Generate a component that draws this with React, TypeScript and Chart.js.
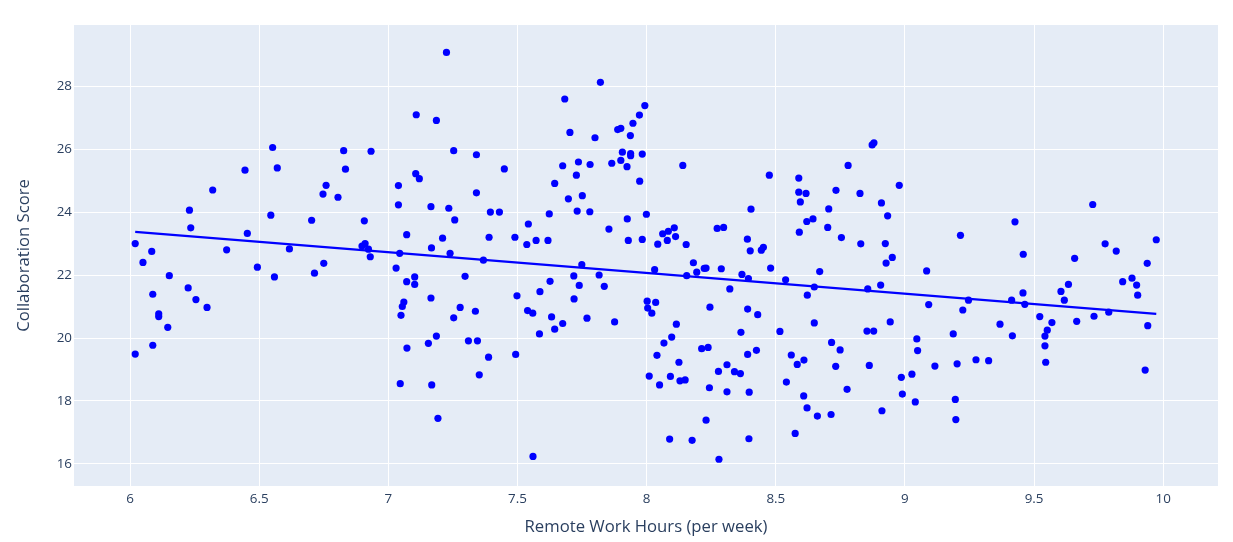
import { useEffect, useRef } from 'react';
import Chart from 'chart.js/auto';

// remote work hours per week (x) and collaboration score (y), one entry per person
const remoteHours = [
  6.02, 6.084, 6.05, 6.152, 6.088, 6.111, 6.111, 6.146, 6.088, 6.02,
  6.225, 6.255, 6.298, 6.23, 6.235, 6.32, 6.374, 6.445, 6.454, 6.493,
  6.552, 6.57, 6.545, 6.559, 6.617, 6.703, 6.714, 6.75, 6.747, 6.759,
  6.805, 6.827, 6.834, 6.907, 6.898, 6.91, 6.923, 6.93, 6.933,
  7.225, 7.108, 7.186, 7.253, 7.341, 7.449, 7.106, 7.12, 7.039, 7.341,
  7.039, 7.165, 7.234, 7.395, 7.43, 7.257, 7.071, 7.21, 7.39, 7.49,
  7.044, 7.167, 7.239, 7.368, 7.03, 7.071, 7.102, 7.102, 7.297, 7.498,
  7.165, 7.06, 7.054, 7.049, 7.278, 7.337, 7.253, 7.186, 7.155, 7.31,
  7.345, 7.072, 7.388, 7.493, 7.352, 7.046, 7.168, 7.192,
  7.821, 7.683, 7.993, 7.972, 7.947, 7.703, 7.8, 7.888, 7.9, 7.937,
  7.906, 7.938, 7.938, 7.983, 7.9, 7.865, 7.924, 7.736, 7.781, 7.675,
  7.728, 7.973, 7.644, 7.697, 7.751, 7.731, 7.78, 7.623, 7.999, 7.925,
  7.542, 7.536, 7.572, 7.618, 7.854, 7.929, 7.983, 7.749, 7.626, 7.718,
  7.816, 7.739, 7.836, 7.587, 7.719, 8.002, 8.004, 8.02, 7.539, 7.559,
  7.632, 7.769, 7.675, 7.644, 7.876, 7.585, 8.01, 7.56,
  8.14, 8.475, 8.404, 8.062, 8.084, 8.107, 8.08, 8.112, 8.043, 8.153,
  8.273, 8.298, 8.39, 8.401, 8.444, 8.452, 8.181, 8.031, 8.194, 8.223,
  8.23, 8.155, 8.289, 8.369, 8.394, 8.48, 8.538, 8.322, 8.035, 8.245,
  8.391, 8.43, 8.115, 8.365, 8.516, 8.097, 8.067, 8.04, 8.213, 8.238,
  8.391, 8.425, 8.56, 8.125, 8.311, 8.278, 8.34, 8.363, 8.092, 8.05,
  8.129, 8.149, 8.243, 8.311, 8.397, 8.541, 8.23, 8.089, 8.176, 8.396,
  8.28, 8.575,
  8.873, 8.88, 8.78, 8.589, 8.589, 8.617, 8.595, 8.733, 8.826, 8.978,
  8.909, 8.933, 8.705, 8.62, 8.644, 8.591, 8.701, 8.754, 8.829, 8.924,
  8.951, 8.927, 8.67, 8.649, 8.622, 8.856, 8.906, 9.084, 9.092, 8.649,
  8.853, 8.879, 8.943, 8.716, 8.749, 8.583, 8.609, 8.732, 8.862, 9.046,
  9.049, 9.116, 8.986, 9.027, 8.776, 8.608, 8.99, 9.04, 8.621, 8.661,
  8.714, 8.911,
  9.727, 9.426, 9.215, 9.458, 9.775, 9.818, 9.973, 9.657, 9.938, 9.843,
  9.879, 9.897, 9.901, 9.633, 9.604, 9.617, 9.457, 9.413, 9.464, 9.246,
  9.224, 9.522, 9.569, 9.551, 9.542, 9.542, 9.545, 9.665, 9.732, 9.789,
  9.94, 9.93, 9.368, 9.187, 9.416, 9.202, 9.275, 9.324, 9.195, 9.197,
];

const collabScores = [
  23.0, 22.75, 22.4, 21.98, 21.39, 20.77, 20.68, 20.34, 19.77, 19.49,
  21.59, 21.22, 20.97, 24.06, 23.5, 24.7, 22.8, 25.33, 23.32, 22.25,
  26.05, 25.4, 23.9, 21.94, 22.83, 23.74, 22.06, 22.37, 24.57, 24.85,
  24.47, 25.95, 25.36, 23.72, 22.92, 23.0, 22.82, 22.58, 25.93,
  29.07, 27.09, 26.91, 25.95, 25.82, 25.37, 25.22, 25.06, 24.84, 24.61,
  24.23, 24.17, 24.12, 24.0, 24.0, 23.75, 23.28, 23.17, 23.2, 23.2,
  22.69, 22.86, 22.69, 22.47, 22.22, 21.79, 21.94, 21.7, 21.96, 21.34,
  21.27, 21.14, 21.0, 20.72, 20.97, 20.85, 20.64, 20.06, 19.83, 19.91,
  19.91, 19.68, 19.39, 19.48, 18.83, 18.55, 18.51, 17.45,
  28.12, 27.59, 27.38, 27.08, 26.82, 26.53, 26.36, 26.62, 26.66, 26.43,
  25.9, 25.86, 25.79, 25.84, 25.64, 25.55, 25.44, 25.59, 25.51, 25.47,
  25.17, 24.98, 24.91, 24.42, 24.52, 24.03, 24.01, 23.94, 23.93, 23.78,
  23.62, 22.97, 23.1, 23.1, 23.46, 23.1, 23.13, 22.33, 21.8, 21.97,
  22.0, 21.67, 21.64, 21.47, 21.24, 21.17, 20.95, 20.79, 20.87, 20.79,
  20.67, 20.63, 20.46, 20.28, 20.51, 20.13, 18.79, 16.24,
  25.48, 25.17, 24.09, 23.31, 23.39, 23.5, 23.1, 23.22, 22.98, 22.97,
  23.48, 23.51, 23.14, 22.77, 22.79, 22.88, 22.39, 22.17, 22.09, 22.21,
  22.22, 21.98, 22.2, 22.02, 21.89, 22.22, 21.85, 21.56, 21.13, 20.98,
  20.92, 20.74, 20.44, 20.18, 20.21, 20.03, 19.84, 19.45, 19.66, 19.7,
  19.48, 19.61, 19.46, 19.23, 19.15, 18.94, 18.93, 18.87, 18.78, 18.51,
  18.64, 18.67, 18.42, 18.29, 18.28, 18.6, 17.39, 16.79, 16.75, 16.8,
  16.15, 16.97,
  26.13, 26.2, 25.48, 25.08, 24.63, 24.59, 24.32, 24.69, 24.59, 24.85,
  24.29, 23.88, 24.1, 23.7, 23.78, 23.36, 23.51, 23.19, 22.99, 23.0,
  22.56, 22.38, 22.11, 21.62, 21.36, 21.56, 21.68, 22.13, 21.06, 20.48,
  20.22, 20.22, 20.51, 19.86, 19.62, 19.16, 19.3, 19.1, 19.13, 19.97,
  19.6, 19.11, 18.75, 18.85, 18.37, 18.16, 18.22, 17.97, 17.78, 17.52,
  17.57, 17.69,
  24.24, 23.69, 23.26, 22.66, 22.99, 22.76, 23.12, 22.53, 22.37, 21.79,
  21.9, 21.68, 21.36, 21.7, 21.48, 21.2, 21.43, 21.2, 21.07, 21.2,
  20.89, 20.68, 20.49, 20.25, 20.06, 19.75, 19.23, 20.53, 20.69, 20.82,
  20.39, 18.98, 20.44, 20.13, 20.07, 19.18, 19.31, 19.28, 18.05, 17.41,
];

const xTicks = [6, 6.5, 7, 7.5, 8, 8.5, 9, 9.5, 10];
const yTicks = [16, 18, 20, 22, 24, 26, 28];

const textColor = '#2a3f5f';
const plotBg = '#E5ECF6';

// ordinary least squares fit, drawn between the smallest and largest x
function olsTrend(xs: number[], ys: number[]) {
  const n = xs.length;
  const mx = xs.reduce((a, b) => a + b, 0) / n;
  const my = ys.reduce((a, b) => a + b, 0) / n;
  let sxy = 0;
  let sxx = 0;
  for (let i = 0; i < n; i++) {
    sxy += (xs[i] - mx) * (ys[i] - my);
    sxx += (xs[i] - mx) * (xs[i] - mx);
  }
  const slope = sxy / sxx;
  const icpt = my - slope * mx;
  const x0 = Math.min(...xs);
  const x1 = Math.max(...xs);
  return [
    { x: x0, y: icpt + slope * x0 },
    { x: x1, y: icpt + slope * x1 },
  ];
}

const plotBackground = {
  id: 'plotBackground',
  beforeDraw(chart: Chart) {
    const { ctx, chartArea } = chart;
    ctx.save();
    ctx.fillStyle = plotBg;
    ctx.fillRect(chartArea.left, chartArea.top, chartArea.width, chartArea.height);
    ctx.restore();
  },
};

export default function App() {
  const canvasRef = useRef<HTMLCanvasElement | null>(null);
  const chartRef = useRef<Chart | null>(null);

  useEffect(() => {
    document.body.style.margin = '0';
    if (!canvasRef.current) return;
    const ctx = canvasRef.current.getContext('2d');
    if (!ctx) return;

    const points = remoteHours.map((x, i) => ({ x, y: collabScores[i] }));

    chartRef.current = new Chart(ctx, {
      type: 'scatter',
      data: {
        datasets: [
          {
            type: 'line',
            data: olsTrend(remoteHours, collabScores),
            borderColor: '#0000ff',
            borderWidth: 2.2,
            pointRadius: 0,
            fill: false,
            order: 0,
          },
          {
            data: points,
            backgroundColor: '#0000ff',
            borderWidth: 0,
            pointRadius: 3.6,
            order: 1,
          },
        ],
      },
      options: {
        animation: false,
        responsive: true,
        maintainAspectRatio: false,
        layout: { padding: { top: 25, right: 15, left: 0, bottom: 0 } },
        plugins: {
          legend: { display: false },
          tooltip: { enabled: false },
        },
        scales: {
          x: {
            type: 'linear',
            min: 5.783,
            max: 10.212,
            afterFit: (s: any) => {
              s.height = 56;
            },
            afterBuildTicks: (s: any) => {
              s.ticks = xTicks.map((v) => ({ value: v }));
            },
            border: { display: false },
            grid: { color: '#ffffff', lineWidth: 1, drawTicks: false },
            ticks: {
              padding: 5,
              color: textColor,
              font: { family: 'Open Sans', size: 13.4 },
              callback: (v: any) => String(v),
            },
            title: {
              display: true,
              text: 'Remote Work Hours (per week)',
              color: textColor,
              font: { family: 'Open Sans', size: 16.7 },
              padding: { top: 0, bottom: 5 },
            },
          },
          y: {
            type: 'linear',
            min: 15.3,
            max: 29.94,
            afterFit: (s: any) => {
              s.width = 74;
            },
            afterBuildTicks: (s: any) => {
              s.ticks = yTicks.map((v) => ({ value: v }));
            },
            border: { display: false },
            grid: { color: '#ffffff', lineWidth: 1, drawTicks: false },
            ticks: {
              padding: 2,
              color: textColor,
              font: { family: 'Open Sans', size: 13.4 },
              callback: (v: any) => String(v),
            },
            title: {
              display: true,
              text: 'Collaboration Score',
              color: textColor,
              font: { family: 'Open Sans', size: 16.7 },
              padding: { top: 14, bottom: 0 },
            },
          },
        },
      },
      plugins: [plotBackground],
    });

    return () => {
      chartRef.current?.destroy();
      chartRef.current = null;
    };
  }, []);

  return (
    <div style={{ width: 1233, height: 542, position: 'relative' }}>
      <canvas ref={canvasRef}></canvas>
    </div>
  );
}
